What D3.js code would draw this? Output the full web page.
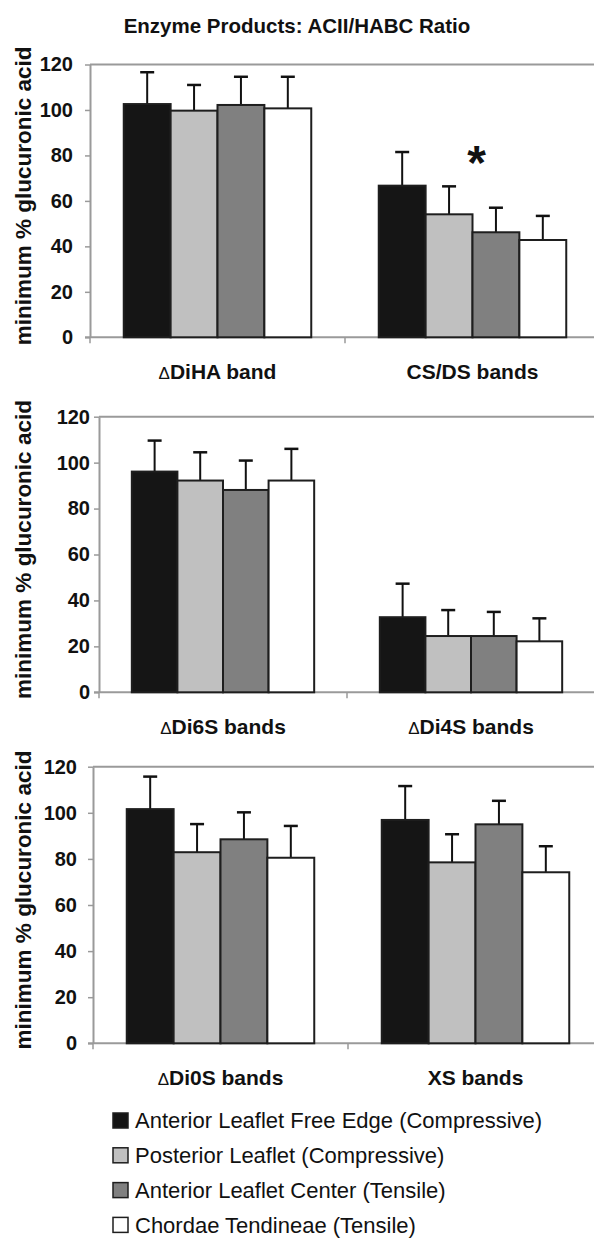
<!DOCTYPE html>
<html>
<head>
<meta charset="utf-8">
<script src="https://cdn.jsdelivr.net/npm/d3@7"></script>
<style>
  body { margin: 0; background: #fff; }
  svg { display: block; font-family: "Liberation Sans", Arial, sans-serif; }
</style>
</head>
<body>
<div id="chart"></div>
<script>
const title = "Enzyme Products:  ACII/HABC Ratio";
const yTitle = "minimum % glucuronic acid";
const series = [
  "Anterior Leaflet Free Edge (Compressive)",
  "Posterior Leaflet (Compressive)",
  "Anterior Leaflet Center (Tensile)",
  "Chordae Tendineae (Tensile)"
];
const fills = ["#151515", "#c0c0c0", "#808080", "#ffffff"];
const yTicks = [0, 20, 40, 60, 80, 100, 120];

// top panel
const categoriesTop = ["ΔDiHA band", "CS/DS bands"];
const meansTop = [[102.6, 99.7, 102.2, 100.7], [66.7, 54.1, 46.2, 42.8]];
const errorsTop = [[14.0, 11.3, 12.4, 13.9], [14.8, 12.3, 10.8, 10.6]];

// middle panel
const categoriesMid = ["ΔDi6S bands", "ΔDi4S bands"];
const meansMid = [[96.1, 92.2, 88.1, 92.2], [32.7, 24.5, 24.5, 22.2]];
const errorsMid = [[13.5, 12.3, 12.8, 13.8], [14.6, 11.3, 10.5, 10.0]];

// bottom panel
const categoriesBot = ["ΔDi0S bands", "XS bands"];
const meansBot = [[101.6, 82.9, 88.5, 80.5], [96.9, 78.5, 95.0, 74.2]];
const errorsBot = [[14.1, 12.2, 11.7, 13.8], [14.7, 12.2, 10.2, 11.3]];

// significance marker: panel, category, after which series, level
const stars = [{ panel: 0, category: "CS/DS bands", after: 1, level: 81.5 }];

const panels = [
  { categories: categoriesTop, means: meansTop, errors: errorsTop },
  { categories: categoriesMid, means: meansMid, errors: errorsMid },
  { categories: categoriesBot, means: meansBot, errors: errorsBot }
];

// pixel layout of each panel
const layout = [
  { left: 90, right: 600, y0: 337.3, yTop: 64.5, labelEnd: 73 },
  { left: 99, right: 595, y0: 692.3, yTop: 416.7, labelEnd: 90 },
  { left: 93, right: 603, y0: 1043.3, yTop: 766.7, labelEnd: 77 }
];

const axisGrey = "#9a9a9a";
const svg = d3.select("#chart").append("svg")
  .attr("width", 594)
  .attr("height", 1239);

svg.append("text")
  .attr("x", 297)
  .attr("y", 33)
  .attr("text-anchor", "middle")
  .attr("font-weight", "bold")
  .attr("font-size", 20.5)
  .attr("fill", "#111")
  .text(title);

function labelWithDelta(sel, label) {
  if (label.startsWith("Δ")) {
    sel.append("tspan").attr("font-weight", "normal").attr("font-size", 17).text("Δ");
    sel.append("tspan").text(label.slice(1));
  } else {
    sel.text(label);
  }
}

panels.forEach((p, pi) => {
  const L = layout[pi];
  const x0 = d3.scaleBand().domain(p.categories).range([L.left, L.right]);
  const x1 = d3.scaleBand().domain(d3.range(series.length))
    .range([0, x0.bandwidth()]).paddingOuter(0.72);
  const y = d3.scaleLinear().domain([0, 120]).range([L.y0, L.yTop]);
  const g = svg.append("g");

  // top border of plot area
  g.append("line")
    .attr("x1", L.left).attr("x2", L.right)
    .attr("y1", y(120)).attr("y2", y(120))
    .attr("stroke", axisGrey).attr("stroke-width", 2);

  // y axis
  const ya = g.append("g")
    .attr("transform", `translate(${L.left},0)`)
    .call(d3.axisLeft(y).tickValues(yTicks).tickSize(5).tickSizeOuter(0)
      .tickPadding(L.left - L.labelEnd - 5));
  ya.attr("font-family", null).attr("font-size", 20).attr("font-weight", "bold");
  ya.select(".domain").attr("stroke", axisGrey).attr("stroke-width", 2);
  ya.selectAll(".tick line").attr("stroke", axisGrey).attr("stroke-width", 1.5);
  ya.selectAll(".tick text").attr("fill", "#111");

  // x axis line and ticks at category boundaries
  g.append("line")
    .attr("x1", L.left - 5).attr("x2", L.right)
    .attr("y1", y(0)).attr("y2", y(0))
    .attr("stroke", axisGrey).attr("stroke-width", 2);
  g.selectAll(".xtick")
    .data(p.categories)
    .enter().append("line")
    .attr("x1", d => x0(d)).attr("x2", d => x0(d))
    .attr("y1", y(0)).attr("y2", y(0) + 6)
    .attr("stroke", axisGrey).attr("stroke-width", 1.5);

  // bars
  p.categories.forEach((cat, ci) => {
    const rows = series.map((s, si) => ({ si, v: p.means[ci][si], e: p.errors[ci][si] }));
    const cg = g.append("g").attr("transform", `translate(${x0(cat)},0)`);

    cg.selectAll(".err")
      .data(rows).enter().append("line")
      .attr("x1", d => x1(d.si) + x1.bandwidth() / 2)
      .attr("x2", d => x1(d.si) + x1.bandwidth() / 2)
      .attr("y1", d => y(d.v)).attr("y2", d => y(d.v + d.e))
      .attr("stroke", "#111").attr("stroke-width", 2);
    cg.selectAll(".cap")
      .data(rows).enter().append("line")
      .attr("x1", d => x1(d.si) + x1.bandwidth() / 2 - 7)
      .attr("x2", d => x1(d.si) + x1.bandwidth() / 2 + 7)
      .attr("y1", d => y(d.v + d.e)).attr("y2", d => y(d.v + d.e))
      .attr("stroke", "#111").attr("stroke-width", 2.5);

    cg.selectAll(".bar")
      .data(rows).enter().append("rect")
      .attr("x", d => x1(d.si))
      .attr("y", d => y(d.v))
      .attr("width", x1.bandwidth())
      .attr("height", d => y(0) - y(d.v))
      .attr("fill", d => fills[d.si])
      .attr("stroke", "#1e1e1e")
      .attr("stroke-width", 2);

    g.append("text")
      .attr("x", x0(cat) + x0.bandwidth() / 2)
      .attr("y", y(0) + 42)
      .attr("text-anchor", "middle")
      .attr("font-weight", "bold")
      .attr("font-size", 21)
      .attr("fill", "#111")
      .call(labelWithDelta, cat);
  });

  // significance stars
  stars.filter(s => s.panel === pi).forEach(s => {
    g.append("text")
      .attr("x", x0(s.category) + x1(s.after + 1) + 4)
      .attr("y", y(s.level) + 27)
      .attr("text-anchor", "middle")
      .attr("font-weight", "bold")
      .attr("font-size", 48)
      .attr("fill", "#111")
      .text("*");
  });

  // y axis title
  g.append("text")
    .attr("transform", `translate(31,${(L.y0 + L.yTop) / 2 - 5}) rotate(-90)`)
    .attr("text-anchor", "middle")
    .attr("font-weight", "bold")
    .attr("font-size", 22.5)
    .attr("fill", "#111")
    .text(yTitle);
});

// legend
const legend = svg.append("g").attr("transform", "translate(113,1113)");
const items = legend.selectAll(".item")
  .data(series).enter().append("g")
  .attr("transform", (d, i) => `translate(0,${i * 34.8})`);
items.append("rect")
  .attr("width", 15).attr("height", 15)
  .attr("fill", (d, i) => fills[i])
  .attr("stroke", "#1e1e1e").attr("stroke-width", 1.5);
items.append("text")
  .attr("x", 22).attr("y", 7.5).attr("dy", "0.35em")
  .attr("font-size", 22)
  .attr("fill", "#111")
  .text(d => d);
</script>
</body>
</html>
